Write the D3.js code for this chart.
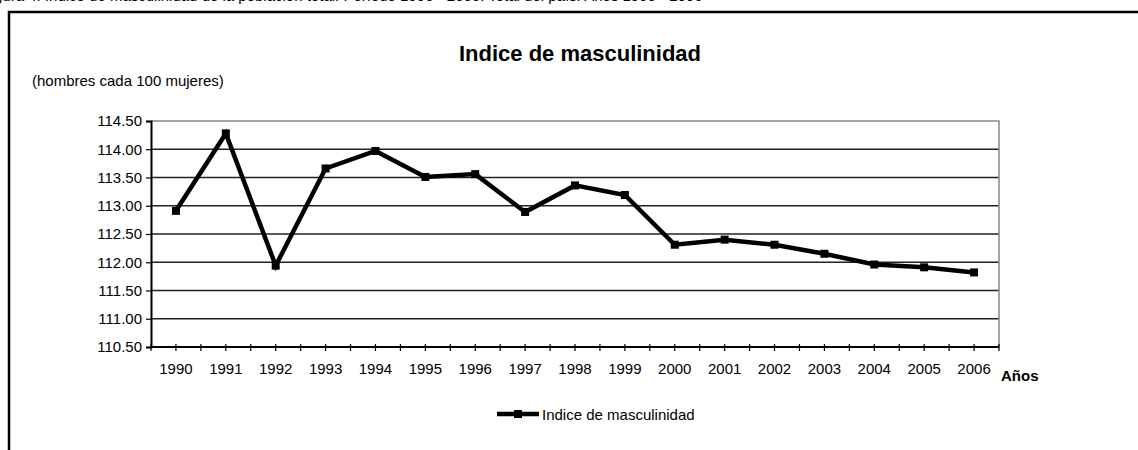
<!DOCTYPE html>
<html>
<head>
<meta charset="utf-8">
<script src="https://cdn.jsdelivr.net/npm/d3@7"></script>
<style>
  body { margin: 0; background: #fff; }
  svg { display: block; font-family: "Liberation Sans", Arial, sans-serif; }
</style>
</head>
<body>
<svg id="chart" width="1138" height="450"></svg>
<script>
// data
const years = ["1990", "1991", "1992", "1993", "1994", "1995", "1996", "1997", "1998",
  "1999", "2000", "2001", "2002", "2003", "2004", "2005", "2006"];
const indice = [112.91, 114.28, 111.94, 113.66, 113.97, 113.51, 113.56, 112.89, 113.36,
  113.19, 112.31, 112.40, 112.31, 112.15, 111.96, 111.91, 111.82];
const yTicks = [110.5, 111, 111.5, 112, 112.5, 113, 113.5, 114, 114.5];
const seriesName = "Indice de masculinidad";

const svg = d3.select("#chart");
const margin = { top: 121, right: 139, bottom: 103, left: 151 };
const W = 1138, H = 450;

// outer frame (runs off the right and bottom of the picture)
svg.append("path")
  .attr("d", "M9,460 V12 H1150")
  .attr("fill", "none")
  .attr("stroke", "#000")
  .attr("stroke-width", 2.5);

// caption line above the frame, mostly cut off by the top edge
svg.append("text")
  .attr("x", -6).attr("y", 1)
  .attr("font-size", 15)
  .attr("fill", "#000")
  .text("gura 4. Índice de masculinidad de la población total. Período 1990 - 2006. Total del país. Años 1990 - 2006");

const x = d3.scaleBand()
  .domain(years)
  .range([margin.left, W - margin.right])
  .padding(0);

const y = d3.scaleLinear()
  .domain([110.5, 114.5])
  .range([H - margin.bottom, margin.top]);

// gridlines
svg.append("g")
  .selectAll("line")
  .data(yTicks.slice(1, -1))
  .join("line")
  .attr("x1", margin.left).attr("x2", W - margin.right)
  .attr("y1", d => y(d)).attr("y2", d => y(d))
  .attr("stroke", "#222")
  .attr("stroke-width", 1.3);

// top and right plot border
svg.append("path")
  .attr("d", `M${margin.left},${y(114.5)} H${W - margin.right} V${y(110.5)}`)
  .attr("fill", "none")
  .attr("stroke", "#888")
  .attr("stroke-width", 1.5);

// y axis
const yAxis = svg.append("g")
  .attr("transform", `translate(${margin.left},0)`)
  .call(d3.axisLeft(y).tickValues(yTicks).tickFormat(d3.format(".2f")).tickSize(5).tickPadding(4));
yAxis.select(".domain").attr("stroke", "#000").attr("stroke-width", 2);
yAxis.selectAll(".tick line").attr("stroke", "#000").attr("stroke-width", 1.2);
yAxis.selectAll("text")
  .attr("font-size", 15)
  .attr("font-family", "'Liberation Sans', Arial, sans-serif")
  .attr("fill", "#000");

// x axis: ticks crossing the axis at every half category
const half = x.bandwidth() / 2;
const tickPos = d3.range(years.length * 2 + 1).map(i => margin.left + i * half);
svg.append("g")
  .selectAll("line")
  .data(tickPos)
  .join("line")
  .attr("x1", d => d).attr("x2", d => d)
  .attr("y1", y(110.5) - 3).attr("y2", y(110.5) + 4)
  .attr("stroke", "#000")
  .attr("stroke-width", 1.2);

svg.append("line")
  .attr("x1", margin.left).attr("x2", W - margin.right)
  .attr("y1", y(110.5)).attr("y2", y(110.5))
  .attr("stroke", "#000")
  .attr("stroke-width", 2);

svg.append("g")
  .selectAll("text")
  .data(years)
  .join("text")
  .attr("x", d => x(d) + half)
  .attr("y", 374)
  .attr("text-anchor", "middle")
  .attr("font-size", 15)
  .text(d => d);

svg.append("text")
  .attr("x", 1001).attr("y", 381)
  .attr("font-size", 15)
  .attr("font-weight", "bold")
  .text("Años");

// title and units
svg.append("text")
  .attr("x", 580).attr("y", 61)
  .attr("text-anchor", "middle")
  .attr("font-size", 22)
  .attr("font-weight", "bold")
  .text(seriesName);

svg.append("text")
  .attr("x", 32).attr("y", 86)
  .attr("font-size", 15)
  .text("(hombres cada 100 mujeres)");

// series
const line = d3.line()
  .x((d, i) => x(years[i]) + half)
  .y(d => y(d));

svg.append("path")
  .datum(indice)
  .attr("d", line)
  .attr("fill", "none")
  .attr("stroke", "#000")
  .attr("stroke-width", 4.5)
  .attr("stroke-linejoin", "miter");

const m = 8;
svg.append("g")
  .selectAll("rect")
  .data(indice)
  .join("rect")
  .attr("x", (d, i) => x(years[i]) + half - m / 2)
  .attr("y", d => y(d) - m / 2)
  .attr("width", m).attr("height", m)
  .attr("fill", "#000");

// legend
const lg = svg.append("g").attr("transform", "translate(497,414)");
lg.append("line")
  .attr("x1", 0).attr("x2", 42)
  .attr("stroke", "#000").attr("stroke-width", 4.5);
lg.append("rect")
  .attr("x", 21 - m / 2).attr("y", -m / 2)
  .attr("width", m).attr("height", m)
  .attr("fill", "#000");
lg.append("text")
  .attr("x", 45).attr("y", 6)
  .attr("font-size", 15)
  .text(seriesName);
</script>
</body>
</html>
